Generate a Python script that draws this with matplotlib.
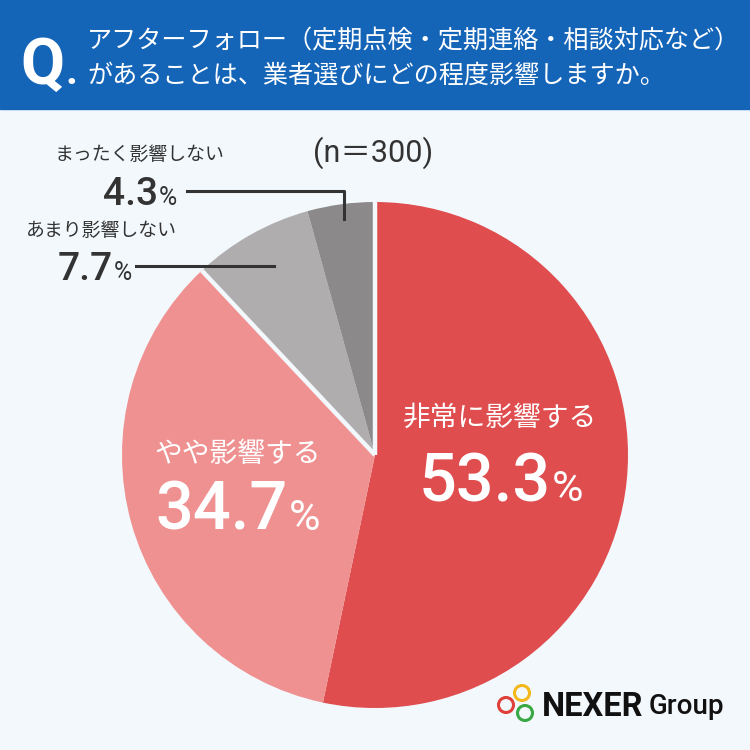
import matplotlib
matplotlib.use("Agg")
import matplotlib.pyplot as plt
from matplotlib.patches import Rectangle, Circle
import numpy as np

plt.rcParams['font.family'] = ['Noto Sans CJK JP', 'DejaVu Sans']

# data
labels = ['非常に影響する', 'やや影響する', 'あまり影響しない', 'まったく影響しない']
values = [53.3, 34.7, 7.7, 4.3]
colors = ['#E04D4E', '#F09191', '#AFADAE', '#8B898A']
title_lines = ['アフターフォロー（定期点検・定期連絡・相談対応など）',
               'があることは、業者選びにどの程度影響しますか。']
n_label = '(n＝300)'

bg = '#F3F8FC'
blue = '#1464B7'
dark = '#333333'

fig = plt.figure(figsize=(7.5, 7.5), dpi=100, facecolor=bg)
ax = fig.add_axes([0, 0, 1, 1])
ax.set_facecolor(bg)

cx, cy, r = 375, 455, 253
# y axis inverted (pixel coords), so counterclock in data = clockwise on screen
ax.pie(values, colors=colors, startangle=-90, counterclock=True,
       center=(cx, cy), radius=r, wedgeprops=dict(linewidth=0))

# white separators between the "influence" group and the "no influence" group
cum = np.cumsum([0] + values) / 100.0
for frac in [cum[0], cum[2]]:
    th = 2 * np.pi * frac
    ax.plot([cx, cx + r * np.sin(th)], [cy, cy - r * np.cos(th)],
            color=bg, lw=3.2, solid_capstyle='butt', zorder=3)

ax.set_xlim(0, 750)
ax.set_ylim(750, 0)
ax.set_aspect('equal')
ax.axis('off')

# header
ax.add_patch(Rectangle((0, 0), 750, 109, color=blue, zorder=1))
ax.text(20, 84, 'Q', color='white', fontsize=46, fontweight='bold',
        family='Roboto', va='baseline', ha='left', zorder=2)
ax.text(66, 84, '.', color='white', fontsize=30, fontweight='bold',
        family='Roboto', va='baseline', ha='left', zorder=2)
ax.text(87, 41, title_lines[0], color='white', fontsize=18.1,
        va='center', ha='left', zorder=2)
ax.text(87, 76, title_lines[1], color='white', fontsize=18.1,
        va='center', ha='left', zorder=2)

def pct(x, y, num, size, color, psize):
    ax.text(x, y, num, color=color, fontsize=size, family='Roboto',
            fontweight='medium', ha='right', va='baseline', zorder=4)
    ax.text(x + 1, y, '%', color=color, fontsize=psize, family='Roboto',
            ha='left', va='baseline', zorder=4)

# inside labels
ax.text(500, 418, labels[0], color='white', fontsize=20, ha='center', va='center', zorder=4)
pct(551, 501, f'{values[0]}', 48, 'white', 31)
ax.text(238, 454, labels[1], color='white', fontsize=20, ha='center', va='center', zorder=4)
pct(288, 530, f'{values[1]}', 48, 'white', 31)

# outside labels
ax.text(55, 155, labels[3], color=dark, fontsize=13.6, ha='left', va='center')
pct(158, 205, f'{values[3]}', 28, dark, 18)
ax.text(26, 231, labels[2], color=dark, fontsize=13.6, ha='left', va='center')
pct(113, 280, f'{values[2]}', 28, dark, 18)

ax.plot([187, 344, 344], [191, 191, 219], color=dark, lw=2.2, zorder=4)
ax.plot([136, 274], [266, 266], color=dark, lw=2.2, zorder=4)

ax.text(373, 153, n_label, color=dark, fontsize=22,
        family=['Roboto', 'Noto Sans CJK JP'], ha='center', va='center')

# logo
for (lx, ly), c in zip([(522, 693), (506, 705), (525, 713)],
                       ['#F2B81C', '#E0403A', '#3AA845']):
    ax.add_patch(Circle((lx, ly), 7.5, fill=False, ec=c, lw=2.2, zorder=5))
ax.text(542, 707, 'NEXER', color='#111111', fontsize=23.5, fontweight='bold',
        family='Roboto', ha='left', va='center', zorder=5)
ax.text(649, 707, 'Group', color='#111111', fontsize=20, fontweight='medium',
        family='Roboto', ha='left', va='center', zorder=5)

fig.savefig('out.png', dpi=100, facecolor=bg)
